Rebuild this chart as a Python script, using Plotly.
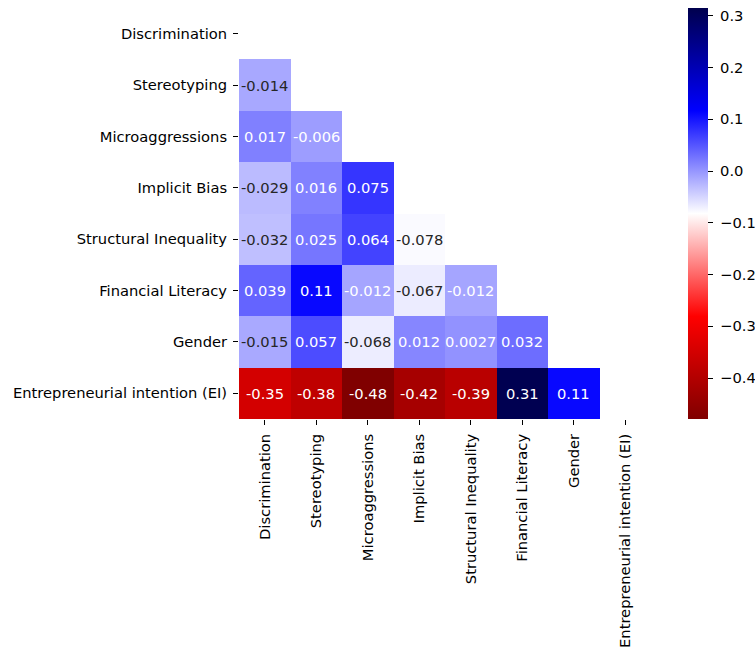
import plotly.graph_objects as go

labels = ["Discrimination", "Stereotyping", "Microaggressions", "Implicit Bias",
          "Structural Inequality", "Financial Literacy", "Gender",
          "Entrepreneurial intention (EI)"]

# lower-triangle correlations (row i, columns 0..i-1)
row_stereotyping = [-0.014]
row_microaggressions = [0.017, -0.006]
row_implicit = [-0.029, 0.016, 0.075]
row_structural = [-0.032, 0.025, 0.064, -0.078]
row_financial = [0.039, 0.11, -0.012, -0.067, -0.012]
row_gender = [-0.015, 0.057, -0.068, 0.012, 0.0027, 0.032]
row_ei = [-0.35, -0.38, -0.48, -0.42, -0.39, 0.31, 0.11]

lower_rows = [[], row_stereotyping, row_microaggressions, row_implicit,
              row_structural, row_financial, row_gender, row_ei]

n = len(labels)
z = []
for i in range(n):
    r = list(lower_rows[i]) + [None] * (n - len(lower_rows[i]))
    z.append(r)

zmin, zmax = -0.479, 0.315
seismic_r = [[0.0, "rgb(128,0,0)"], [0.25, "rgb(255,0,0)"], [0.5, "rgb(255,255,255)"],
             [0.75, "rgb(0,0,255)"], [1.0, "rgb(0,0,77)"]]

FONT = "DejaVu Sans"
FS = 14.7

fig = go.Figure()
fig.add_trace(go.Heatmap(
    z=z, x=labels, y=labels, zmin=zmin, zmax=zmax, colorscale=seismic_r,
    hoverongaps=False,
    colorbar=dict(
        x=1.0898, xanchor="left", xref="paper", y=0.5, yanchor="middle",
        len=1, lenmode="fraction", thickness=20, xpad=0, ypad=0,
        outlinewidth=0, ticks="outside", ticklen=5, tickwidth=1.1,
        tickcolor="black", tick0=0, dtick=0.1, tickformat=".1f",
        tickprefix="\u00a0",
        tickfont=dict(family=FONT, size=FS, color="black"),
    ),
))

annotations = []
for i in range(n):
    for j, v in enumerate(lower_rows[i]):
        color = "#262626" if (-0.1 < v < -0.013) else "white"
        annotations.append(dict(
            x=labels[j], y=labels[i], text=format(v, ".2g"), showarrow=False,
            font=dict(family=FONT, size=FS, color=color),
        ))

fig.update_layout(
    width=755, height=650,
    margin=dict(l=239, r=104, t=8, b=231, autoexpand=False),
    paper_bgcolor="white", plot_bgcolor="white",
    font=dict(family=FONT, size=FS, color="black"),
    annotations=annotations,
    xaxis=dict(type="category", range=[-0.5, n - 0.5], tickangle=-90,
               ticks="outside", ticklen=5, tickwidth=1.1, tickcolor="black",
               showgrid=False, zeroline=False, showline=False,
               ticklabelstandoff=3, automargin=False,
               tickfont=dict(family=FONT, size=FS, color="black")),
    yaxis=dict(type="category", range=[n - 0.5, -0.5],
               ticks="outside", ticklen=5, tickwidth=1.1, tickcolor="black",
               showgrid=False, zeroline=False, showline=False,
               ticklabelstandoff=3, automargin=False,
               tickfont=dict(family=FONT, size=FS, color="black")),
)

fig.write_html("out.html")
